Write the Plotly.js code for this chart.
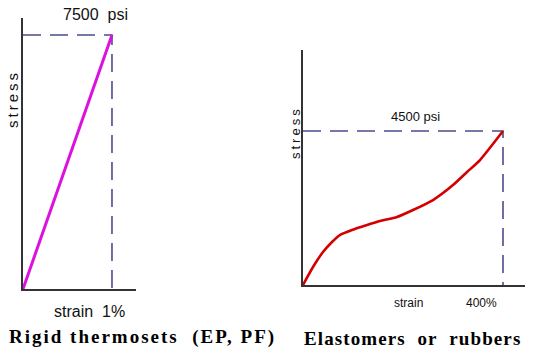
<!DOCTYPE html>
<html><head><meta charset="utf-8">
<script src="https://cdn.plot.ly/plotly-3.0.1.min.js"></script>
<style>html,body{margin:0;padding:0;background:#fff}</style>
</head><body><div id="chart" style="width:538px;height:360px"></div>
<script>
// Data
const rigidStrain = [0, 1];            // % strain
const rigidStress = [0, 7500];         // psi
const rubberStrain = [0, 20, 40, 58, 74, 98, 128, 154, 188, 220, 260, 300, 328, 354, 400];
const rubberStress = [0, 526, 964, 1256, 1461, 1607, 1753, 1870, 1987, 2192, 2484, 2922, 3302, 3653, 4500];
const peakLabels = ['7500\u00a0\u00a0psi', '4500 psi'];
const panelTitles = ['Rigid thermosets\u00a0\u00a0(EP, PF)', 'Elastomers\u00a0 or\u00a0 rubbers'];
const axisLabels = ['stress', 'strain\u00a0\u00a01%', 'strain', '400%'];

const W = 538, H = 360;
const px = v => v / W, py = v => 1 - v / H;

const guide = (xs, ys) => {
  const xe = xs[xs.length - 1], ye = ys[ys.length - 1];
  return {x: [0, xe, xe], y: [ye, ye, 0]};
};
const g1 = guide(rigidStrain, rigidStress);
const g2 = guide(rubberStrain, rubberStress);
const dashStyle = {color: '#4c4b8e', width: 1.6, dash: '18px,9px'};

const traces = [
  {x: g1.x, y: g1.y, xaxis: 'x', yaxis: 'y', mode: 'lines', line: dashStyle, hoverinfo: 'skip'},
  {x: rigidStrain, y: rigidStress, xaxis: 'x', yaxis: 'y', mode: 'lines', line: {color: '#dd11dd', width: 3}},
  {x: g2.x, y: g2.y, xaxis: 'x2', yaxis: 'y2', mode: 'lines', line: dashStyle, hoverinfo: 'skip'},
  {x: rubberStrain, y: rubberStress, xaxis: 'x2', yaxis: 'y2', mode: 'lines', line: {color: '#d40000', width: 2.6, shape: 'spline', smoothing: 0.6}}
];

const ax = {showline: true, linecolor: '#333', linewidth: 2, showgrid: false, zeroline: false,
  showticklabels: false, ticks: '', fixedrange: true};

const sans = {family: 'Liberation Sans, Arial, sans-serif', color: '#111'};
const serif = {family: 'Liberation Serif, Times New Roman, serif', color: '#000', size: 19, weight: 'bold'};
const spaced = (t, s) => '<span style="letter-spacing:' + s + 'px">' + t + '</span>';
const ann = (text, x, y, size, extra) => Object.assign({text, x: px(x), y: py(y), xref: 'paper', yref: 'paper',
  showarrow: false, xanchor: 'center', yanchor: 'middle', font: Object.assign({}, sans, {size})}, extra || {});

const layout = {
  width: W, height: H, margin: {l: 0, r: 0, t: 0, b: 0},
  paper_bgcolor: '#fff', plot_bgcolor: 'rgba(0,0,0,0)', showlegend: false,
  xaxis: Object.assign({}, ax, {domain: [px(23), px(136)], range: [0, 1.27], anchor: 'y'}),
  yaxis: Object.assign({}, ax, {domain: [py(289), py(18)], range: [0, 8000], anchor: 'x'}),
  xaxis2: Object.assign({}, ax, {domain: [px(303), px(525)], range: [0, 444], anchor: 'y2'}),
  yaxis2: Object.assign({}, ax, {domain: [py(285), py(50)], range: [0, 6870], anchor: 'x2'}),
  annotations: [
    ann(peakLabels[0], 95, 15, 16),
    ann(peakLabels[1], 415, 117, 13),
    ann(spaced(axisLabels[0], 3), 12, 99, 15, {textangle: -90}),
    ann(spaced(axisLabels[0], 3), 295, 133, 13, {textangle: -90}),
    ann(axisLabels[1], 89, 311, 16),
    ann(axisLabels[2], 408, 303, 12),
    ann(axisLabels[3], 481, 303, 12),
    Object.assign(ann(spaced(panelTitles[0], 2), 142, 337, 19), {font: serif}),
    Object.assign(ann(spaced(panelTitles[1], 1.1), 412, 338, 19), {font: serif})
  ]
};

Plotly.newPlot('chart', traces, layout, {displayModeBar: false, staticPlot: true});
</script></body></html>
